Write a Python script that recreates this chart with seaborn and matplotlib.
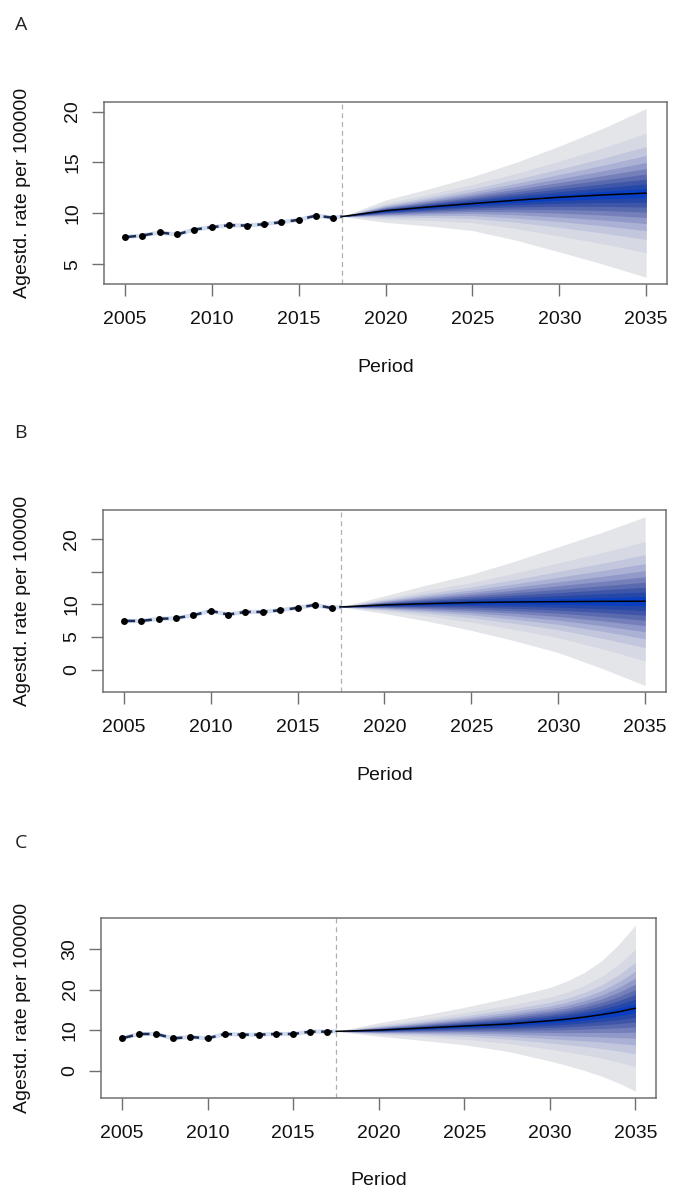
import numpy as np
import pandas as pd
import matplotlib
matplotlib.use("Agg")
import matplotlib.pyplot as plt
import seaborn as sns

# ---------------- data ----------------
years_obs = list(range(2005, 2018))
obs_A = [7.65, 7.81, 8.11, 7.91, 8.40, 8.63, 8.82, 8.79, 8.92, 9.12, 9.35, 9.77, 9.55]
obs_B = [7.45, 7.45, 7.76, 7.87, 8.33, 8.99, 8.43, 8.83, 8.83, 9.09, 9.45, 9.91, 9.40]
obs_C = [7.98, 9.05, 9.05, 7.98, 8.31, 7.98, 9.05, 8.88, 8.88, 9.05, 9.05, 9.62, 9.62]

years_f_AB = [2017.5, 2020, 2022.5, 2025, 2027.5, 2030, 2032.5, 2035]
med_A = [9.68, 10.25, 10.62, 10.95, 11.28, 11.57, 11.8, 11.98]
up_A = [9.68, 11.3, 12.4, 13.6, 15.0, 16.6, 18.35, 20.3]
lo_A = [9.68, 9.1, 8.75, 8.3, 7.35, 6.2, 5.0, 3.7]

med_B = [9.6, 9.9, 10.1, 10.27, 10.35, 10.4, 10.45, 10.47]
up_B = [9.6, 11.3, 13.0, 14.6, 16.6, 18.8, 21.0, 23.4]
lo_B = [9.6, 8.6, 7.4, 6.0, 4.4, 2.6, 0.2, -2.45]

years_f_C = [2017.5, 2020, 2022.5, 2025, 2027.5, 2030, 2031, 2032, 2033, 2034, 2035]
med_C = [9.7, 10.0, 10.5, 11.0, 11.5, 12.3, 12.7, 13.2, 13.8, 14.5, 15.4]
up_C = [9.7, 11.8, 13.6, 15.6, 17.9, 20.5, 22.1, 24.2, 27.0, 31.0, 35.9]
lo_C = [9.7, 8.5, 7.5, 6.4, 4.8, 2.4, 1.3, 0.1, -1.3, -3.0, -5.0]

# fan quantile levels (1%,5%,10%,...,45%) as normal-z values, outer -> inner
band_z = [2.326, 1.645, 1.282, 1.036, 0.842, 0.674, 0.524, 0.385, 0.253, 0.126]
band_colors = ['#e4e5e9', '#d6d9e4', '#c2c7de', '#aab1d4', '#9099c8', '#7580bb',
               '#5a6aaf', '#3f55a7', '#2447a8', '#0a3fc2']

x_ticks = [2005, 2010, 2015, 2020, 2025, 2030, 2035]
y_ticks_A = [5, 10, 15, 20]
y_ticks_B = [0, 5, 10, 15, 20]
y_labels_B = ['0', '5', '10', '', '20']
y_ticks_C = [0, 10, 20, 30]
cut_year = 2017.5

panels = [
    dict(letter='A', obs=obs_A, yf=years_f_AB, med=med_A, up=up_A, lo=lo_A,
         yt=y_ticks_A, yl=[str(v) for v in y_ticks_A],
         rect=[0.1523, 0.7631, 0.8243, 0.1520], lpos=(21, 25)),
    dict(letter='B', obs=obs_B, yf=years_f_AB, med=med_B, up=up_B, lo=lo_B,
         yt=y_ticks_B, yl=y_labels_B,
         rect=[0.1508, 0.4226, 0.8243, 0.1520], lpos=(20, 433)),
    dict(letter='C', obs=obs_C, yf=years_f_C, med=med_C, up=up_C, lo=lo_C,
         yt=y_ticks_C, yl=[str(v) for v in y_ticks_C],
         rect=[0.1486, 0.0845, 0.8119, 0.1496], lpos=(21, 843)),
]

# ---------------- style ----------------
sns.set_theme(style='white')
plt.rcParams['font.family'] = ['Liberation Sans', 'DejaVu Sans']

W, H = 683, 1199
fig = plt.figure(figsize=(W / 100, H / 100), dpi=100)
frame_col = '#707070'

for p in panels:
    ax = fig.add_axes(p['rect'])
    yf = np.array(p['yf'])
    med = np.array(p['med'])
    up = np.array(p['up'])
    lo = np.array(p['lo'])
    z0 = band_z[0]
    for z, col in zip(band_z, band_colors):
        f = z / z0
        ax.fill_between(yf, med - f * (med - lo), med + f * (up - med),
                        color=col, linewidth=0, zorder=1)
    sns.lineplot(x=yf, y=med, ax=ax, color='black', linewidth=1.1, zorder=3)

    # observed series
    df = pd.DataFrame({'year': years_obs + [yf[0]], 'rate': p['obs'] + [med[0]]})
    ax.plot(df['year'], df['rate'], color='#9db3d9', linewidth=3.0, alpha=0.45, zorder=2)
    ax.plot(df['year'], df['rate'], color='#1b2d57', linewidth=1.8,
            dashes=(4.5, 2.2), zorder=3)
    sns.scatterplot(x=years_obs, y=p['obs'], ax=ax, color='black', s=25,
                    edgecolor='black', linewidth=0, zorder=4)

    ax.axvline(cut_year, color='#b0b0b0', linestyle=(0, (4, 3)), linewidth=0.9, zorder=2)

    # limits (R-style 4% expansion)
    allv = np.concatenate([p['obs'], up, lo])
    rng = allv.max() - allv.min()
    ax.set_ylim(allv.min() - 0.04 * rng, allv.max() + 0.04 * rng)
    xr = x_ticks[-1] - x_ticks[0]
    ax.set_xlim(x_ticks[0] - 0.04 * xr, x_ticks[-1] + 0.04 * xr)

    ax.set_xticks(x_ticks)
    ax.set_xticklabels([str(v) for v in x_ticks])
    ax.set_yticks(p['yt'])
    ax.set_yticklabels(p['yl'])
    plt.setp(ax.get_yticklabels(), rotation=90, va='center', ha='right')

    ax.tick_params(axis='both', which='major', direction='out', length=8.5,
                   width=1.0, color=frame_col, labelsize=14, labelcolor='#111111')
    ax.tick_params(axis='x', pad=11)
    ax.tick_params(axis='y', pad=8)
    ax.tick_params(left=True, bottom=True)
    for s in ax.spines.values():
        s.set_color(frame_col)
        s.set_linewidth(1.1)
        s.set_visible(True)

    ax.set_xlabel('Period', fontsize=14, va='center', color='#111111')
    ax.set_ylabel('Agestd. rate per 100000', fontsize=14, va='center', color='#111111')
    bh = p['rect'][3] * H
    bw = p['rect'][2] * W
    ax.xaxis.set_label_coords(0.5, -83 / bh)
    ax.yaxis.set_label_coords(-(p['rect'][0] * W - 22.5) / bw, 0.5)
    ax.grid(False)

    lx, ly = p['lpos']
    fig.text(lx / W, 1 - ly / H, p['letter'], ha='center', va='center',
             fontsize=14, family=['Open Sans', 'DejaVu Sans'], color='#222222')

fig.savefig('out.png', dpi=100, facecolor='white')
